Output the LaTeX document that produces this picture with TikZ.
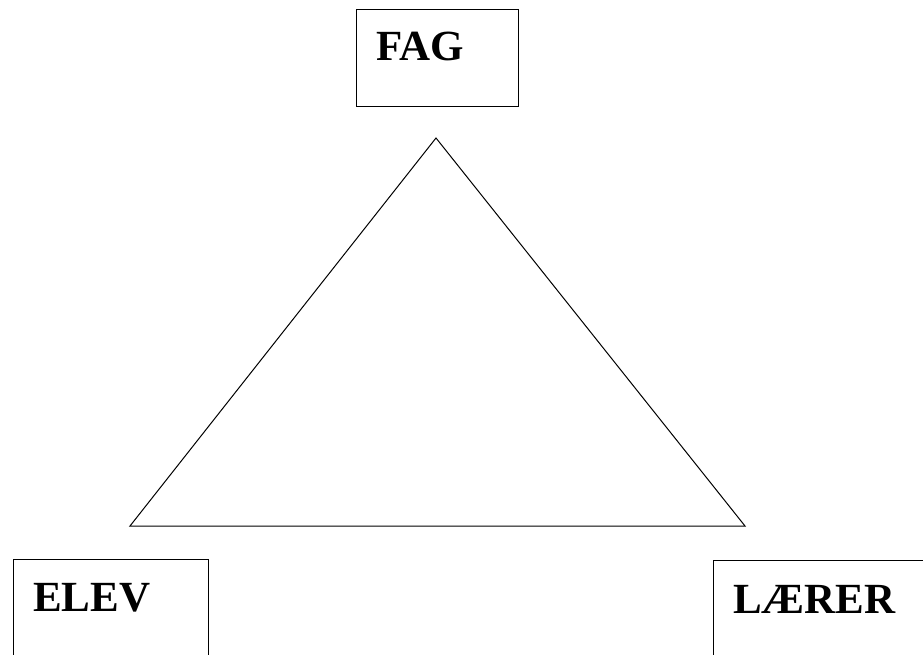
\documentclass[tikz,border=0pt]{standalone}
\usepackage{fontspec}
\setmainfont{Liberation Serif}
\usepackage{tikz}
\usetikzlibrary{positioning}

\begin{document}
\begin{tikzpicture}[x=1pt, y=-1pt,
        corner/.style={rectangle, draw=black, line width=1pt, fill=white, anchor=north west, inner sep=0pt},
        word/.style={anchor=base west, inner sep=0pt, font=\fontsize{43}{43}\selectfont\bfseries}
      ]
        \useasboundingbox (0,0) rectangle (923,655);
        \clip (0,0) rectangle (923,655);

        \node[corner, minimum width=162pt, minimum height=97pt]  (fagbox)   at (356,9)   {};
        \node[corner, minimum width=195pt, minimum height=130pt] (elevbox)  at (13,559)  {};
        \node[corner, minimum width=240pt, minimum height=130pt] (lererbox) at (713,560) {};

        \node[word] (fag)   at ([xshift=20pt, yshift=-52pt]fagbox.north west)   {FAG};
        \node[word] (elev)  at ([xshift=20pt, yshift=-52pt]elevbox.north west)  {ELEV};
        \node[word] (lerer) at ([xshift=20pt, yshift=-53pt]lererbox.north west) {LÆRER};

        \coordinate (top)   at (436,138);
        \coordinate (left)  at (130,526);
        \coordinate (right) at (745,526);
        \draw[line width=1pt, line join=miter] (top) -- (left) -- (right) -- cycle;
      \end{tikzpicture}
\end{document}
